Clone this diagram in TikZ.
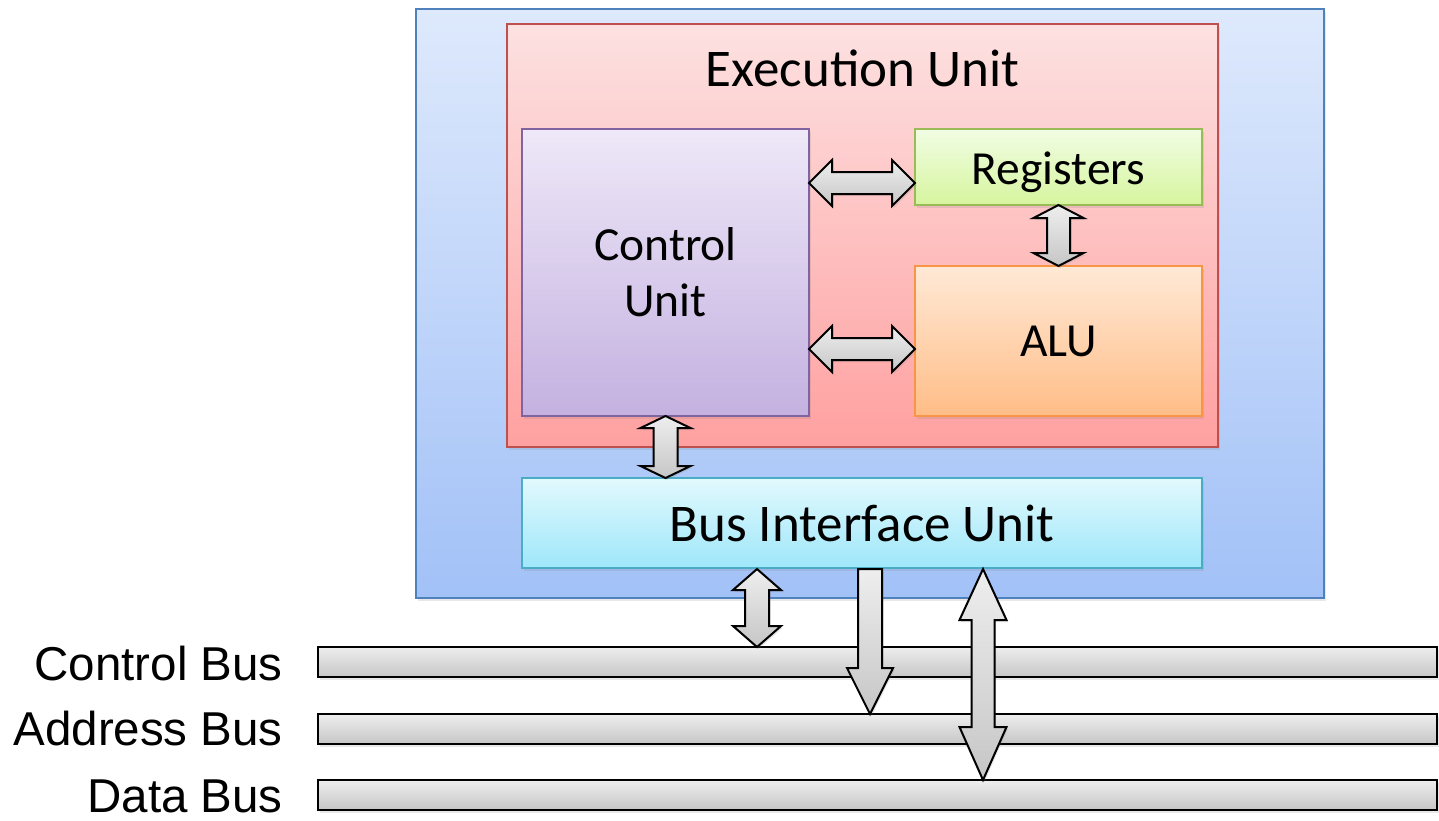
\documentclass[tikz,border=0pt]{standalone}
\usepackage{fontspec}
\setmainfont{Carlito}
\newfontfamily\arialf{Liberation Sans}
\usetikzlibrary{calc,shadows}
\definecolor{outerB}{RGB}{79,129,189}
\definecolor{outerT}{RGB}{222,233,252}
\definecolor{outerBot}{RGB}{162,193,247}
\definecolor{exeB}{RGB}{192,80,77}
\definecolor{exeT}{RGB}{253,225,225}
\definecolor{exeBot}{RGB}{255,160,160}
\definecolor{cuB}{RGB}{128,100,162}
\definecolor{cuT}{RGB}{238,232,248}
\definecolor{cuBot}{RGB}{196,177,224}
\definecolor{regB}{RGB}{155,187,89}
\definecolor{regT}{RGB}{241,253,228}
\definecolor{regBot}{RGB}{214,245,158}
\definecolor{aluB}{RGB}{247,150,70}
\definecolor{aluT}{RGB}{255,233,214}
\definecolor{aluBot}{RGB}{255,189,135}
\definecolor{biuB}{RGB}{75,172,198}
\definecolor{biuT}{RGB}{226,249,253}
\definecolor{biuBot}{RGB}{158,231,250}
\definecolor{arrT}{RGB}{238,238,238}
\definecolor{arrBot}{RGB}{198,198,198}
\tikzset{
  box/.style={rectangle, inner sep=0pt, outer sep=0pt, line width=1.6pt,
    drop shadow={opacity=0.18, shadow xshift=1.5pt, shadow yshift=-2.5pt}},
  lbl/.style={font=\fontsize{47.5}{56}\selectfont, align=center},
  biglbl/.style={font=\fontsize{53}{60}\selectfont, align=center},
  buslbl/.style={font=\arialf\fontsize{47.5}{52}\selectfont, anchor=base east, inner sep=0pt},
  busbar/.style={rectangle, inner sep=0pt, outer sep=0pt, line width=2.4pt, draw=black,
    top color=arrT, bottom color=arrBot, minimum height=30pt, minimum width=1119pt, anchor=north west,
    drop shadow={opacity=0.18, shadow xshift=1.5pt, shadow yshift=-2.5pt}},
  fatarrow/.style={draw=black, line width=2pt, line join=miter, top color=arrT, bottom color=arrBot,
    drop shadow={opacity=0.2, shadow xshift=1.5pt, shadow yshift=-2pt}}
}
\newcommand\dblarr[6]{%
 \path[fatarrow] (#1)
  -- ($(#1)!#5!(#2)!#4!90:(#2)$)
  -- ($(#1)!#5!(#2)!#3!90:(#2)$)
  -- ($(#2)!#6!(#1)!#3!-90:(#1)$)
  -- ($(#2)!#6!(#1)!#4!-90:(#1)$)
  -- (#2)
  -- ($(#2)!#6!(#1)!#4!90:(#1)$)
  -- ($(#2)!#6!(#1)!#3!90:(#1)$)
  -- ($(#1)!#5!(#2)!#3!-90:(#2)$)
  -- ($(#1)!#5!(#2)!#4!-90:(#2)$)
  -- cycle;}
\newcommand\sglarr[5]{%
 \path[fatarrow] ($(#1)!#3!90:(#2)$)
  -- ($(#2)!#5!(#1)!#3!-90:(#1)$)
  -- ($(#2)!#5!(#1)!#4!-90:(#1)$)
  -- (#2)
  -- ($(#2)!#5!(#1)!#4!90:(#1)$)
  -- ($(#2)!#5!(#1)!#3!90:(#1)$)
  -- ($(#1)!#3!-90:(#2)$)
  -- cycle;}
\begin{document}
\begin{tikzpicture}[x=1pt,y=-1pt]
\useasboundingbox (0,0) rectangle (1439,820);
% containers
\node[box, draw=outerB, top color=outerT, bottom color=outerBot, minimum width=908pt, minimum height=589pt, anchor=north west] (outer) at (416,9) {};
\node[box, draw=exeB, top color=exeT, bottom color=exeBot, minimum width=711pt, minimum height=423pt, anchor=north west] (exe) at (507,24) {};
\node[biglbl] (exelbl) at ($(exe.north)+(0,44)$) {Execution Unit};
\node[box, lbl, draw=cuB, top color=cuT, bottom color=cuBot, minimum width=287pt, minimum height=287pt, anchor=north west] (cu) at (522,129) {Control\\Unit};
\node[box, lbl, draw=regB, top color=regT, bottom color=regBot, minimum width=287pt, minimum height=76pt, anchor=north west] (reg) at (915,129) {\raisebox{-5pt}[\height][\depth]{Registers}};
\node[box, lbl, draw=aluB, top color=aluT, bottom color=aluBot, minimum width=287pt, minimum height=150pt, anchor=north west] (alu) at (915,266) {ALU};
\node[box, biglbl, draw=biuB, top color=biuT, bottom color=biuBot, minimum width=680pt, minimum height=90pt, anchor=north west] (biu) at (522,478) {Bus Interface Unit};
% buses
\node[busbar] (cbus) at (318,647) {};
\node[busbar] (abus) at (318,714) {};
\node[busbar] (dbus) at (318,780) {};
\node[buslbl] (cbuslbl) at ($(cbus.west)+(-35,18)$) {Control Bus};
\node[buslbl] (abuslbl) at ($(abus.west)+(-35,16)$) {Address Bus};
\node[buslbl] (dbuslbl) at ($(dbus.west)+(-35,17)$) {Data Bus};
% arrow end points
\coordinate (a1s) at (cu.east |- 0,183);
\coordinate (a1e) at (reg.west |- 0,183);
\coordinate (a2s) at (cu.east |- 0,349);
\coordinate (a2e) at (alu.west |- 0,349);
\coordinate (a3s) at (reg.south);
\coordinate (a3e) at (alu.north -| reg.south);
\coordinate (a4s) at (cu.south);
\coordinate (a4e) at (cu.south |- biu.north);
\coordinate (a5s) at (757,569);
\coordinate (a5e) at (a5s |- cbus.north);
\coordinate (a6s) at (870,569);
\coordinate (a6e) at (a6s |- abus.north);
\coordinate (a7s) at (983,569);
\coordinate (a7e) at (a7s |- dbus.north);
% arrows
\dblarr{a1s}{a1e}{11pt}{23pt}{23pt}{23pt}
\dblarr{a2s}{a2e}{11pt}{23pt}{23pt}{23pt}
\dblarr{a3s}{a3e}{11.5pt}{25pt}{13pt}{13pt}
\dblarr{a4s}{a4e}{12pt}{25pt}{12pt}{12pt}
\dblarr{a5s}{a5e}{12pt}{24pt}{21pt}{21pt}
\sglarr{a6s}{a6e}{12pt}{23pt}{46pt}
\dblarr{a7s}{a7e}{11.5pt}{23.5pt}{51pt}{53pt}
\end{tikzpicture}
\end{document}
